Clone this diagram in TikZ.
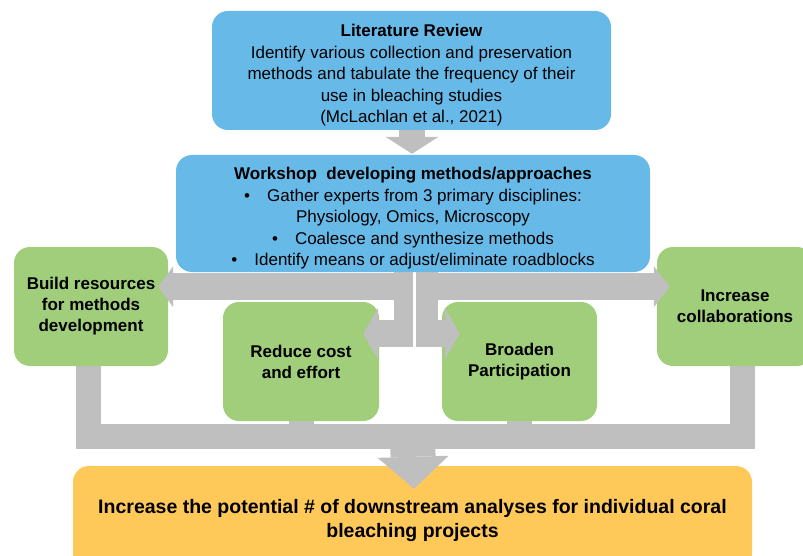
\documentclass[tikz,border=0pt]{standalone}
\usepackage{fontspec}
\setmainfont{Liberation Sans}
\usepackage{tikz}
\usetikzlibrary{arrows.meta}
\usetikzlibrary{calc}
\usepackage{xcolor}
\definecolor{boxblue}{HTML}{67B9E8}
\definecolor{boxgreen}{HTML}{A0CE7A}
\definecolor{boxorange}{HTML}{FFC95A}
\definecolor{arrowgray}{HTML}{BFBFBF}

\begin{document}
\begin{tikzpicture}[x=1pt, y=-1pt,
    box/.style={rounded corners=16pt, align=center, inner sep=0pt},
    bluebox/.style={box, fill=boxblue, font=\fontsize{17}{21.5}\selectfont},
    greenbox/.style={box, fill=boxgreen, minimum width=155pt, minimum height=119pt, font=\fontsize{17}{21}\selectfont\bfseries},
    orangebox/.style={box, fill=boxorange, font=\fontsize{19.5}{24}\selectfont\bfseries},
    fat/.style={draw=arrowgray, line width=#1},
    graytip/.style 2 args={-{Triangle[width=#1,length=#2,line width=0pt]}},
  ]
  \useasboundingbox (0,0) rectangle (803,556);

	\node[bluebox, minimum width=399pt, minimum height=119pt] (lit) at (411.5,70.5) {\rule{0pt}{22.4pt}\textbf{Literature Review}\\
		Identify various collection and preservation\\
		methods and tabulate the frequency of their\\
		use in bleaching studies\\
		(McLachlan et al., 2021)};
	\node[bluebox, minimum width=474pt, minimum height=117pt] (ws) at (413,213.5) {\rule{0pt}{21.6pt}\textbf{Workshop\ \ developing methods/approaches}\\
		\textbullet\hspace{1em}Gather experts from 3 primary disciplines:\\
		Physiology, Omics, Microscopy\\
		\textbullet\hspace{1em}Coalesce and synthesize methods\\
		\textbullet\hspace{1em}Identify means or adjust/eliminate roadblocks};

	\node[greenbox, minimum width=154pt] (build) at (91,306.5) {Build resources\\ for methods\\ development};
	\node[greenbox, minimum width=156pt] (reduce) at (301,361.5) {Reduce cost\\ and effort};
	\node[greenbox] (broaden) at (519.5,361.5) {Broaden\\ Participation};
	\node[greenbox, minimum width=156pt] (collab) at (735,306.5) {Increase\\ collaborations};

	\node[orangebox, minimum width=679pt, minimum height=104pt] (bottom) at (412.5,518) {\rule{0pt}{18.2pt}Increase the potential \# of downstream analyses for individual coral\\ bleaching projects};

	% arrows out of the workshop
	\coordinate (split) at ($(ws.south)+(0,14.5)$);
	\coordinate (low) at ($(ws.south)+(0,61.5)$);
	\draw[fat=26pt, graytip={53pt}{17pt}] ($(lit.south)+(0.5,0)$) -- ($(ws.north)+(-1,-1)$);
	\draw[fat=19pt] ($(ws.south)+(-9.5,0)$) -- ($(ws.south)+(-9.5,75)$);
	\draw[fat=22pt] ($(ws.south)+(14,0)$) -- ($(ws.south)+(14,75)$);
	\draw[fat=27pt, graytip={41pt}{15pt}] (split) -- ($(split -| build.east)+(-10,0)$);
	\draw[fat=27pt, graytip={41pt}{16pt}] ($(split)+(3,0)$) -- ($(split -| collab.west)+(13,0)$);
	\draw[fat=27pt, graytip={52pt}{15pt}] (low) -- ($(low -| reduce.east)+(-16,0)$);
	\draw[fat=27pt, graytip={52pt}{15pt}] ($(low)+(25,0)$) -- ($(low -| broaden.west)+(18,0)$);

	% merging into the result
	\coordinate (merge) at ($(bottom.north)+(0,-29)$);
	\draw[fat=25pt, line join=miter] ($(build.south)+(-2.5,0)$) |- (merge) -| ($(collab.south)+(7.5,0)$);
	\draw[fat=25pt] (reduce.south) -- (reduce.south |- merge);
	\draw[fat=25pt] (broaden.south) -- (broaden.south |- merge);
	\draw[fat=45pt, graytip={71pt}{32pt}] (merge) -- ($(bottom.north)+(1.5,23)$);

\end{tikzpicture}
\end{document}
